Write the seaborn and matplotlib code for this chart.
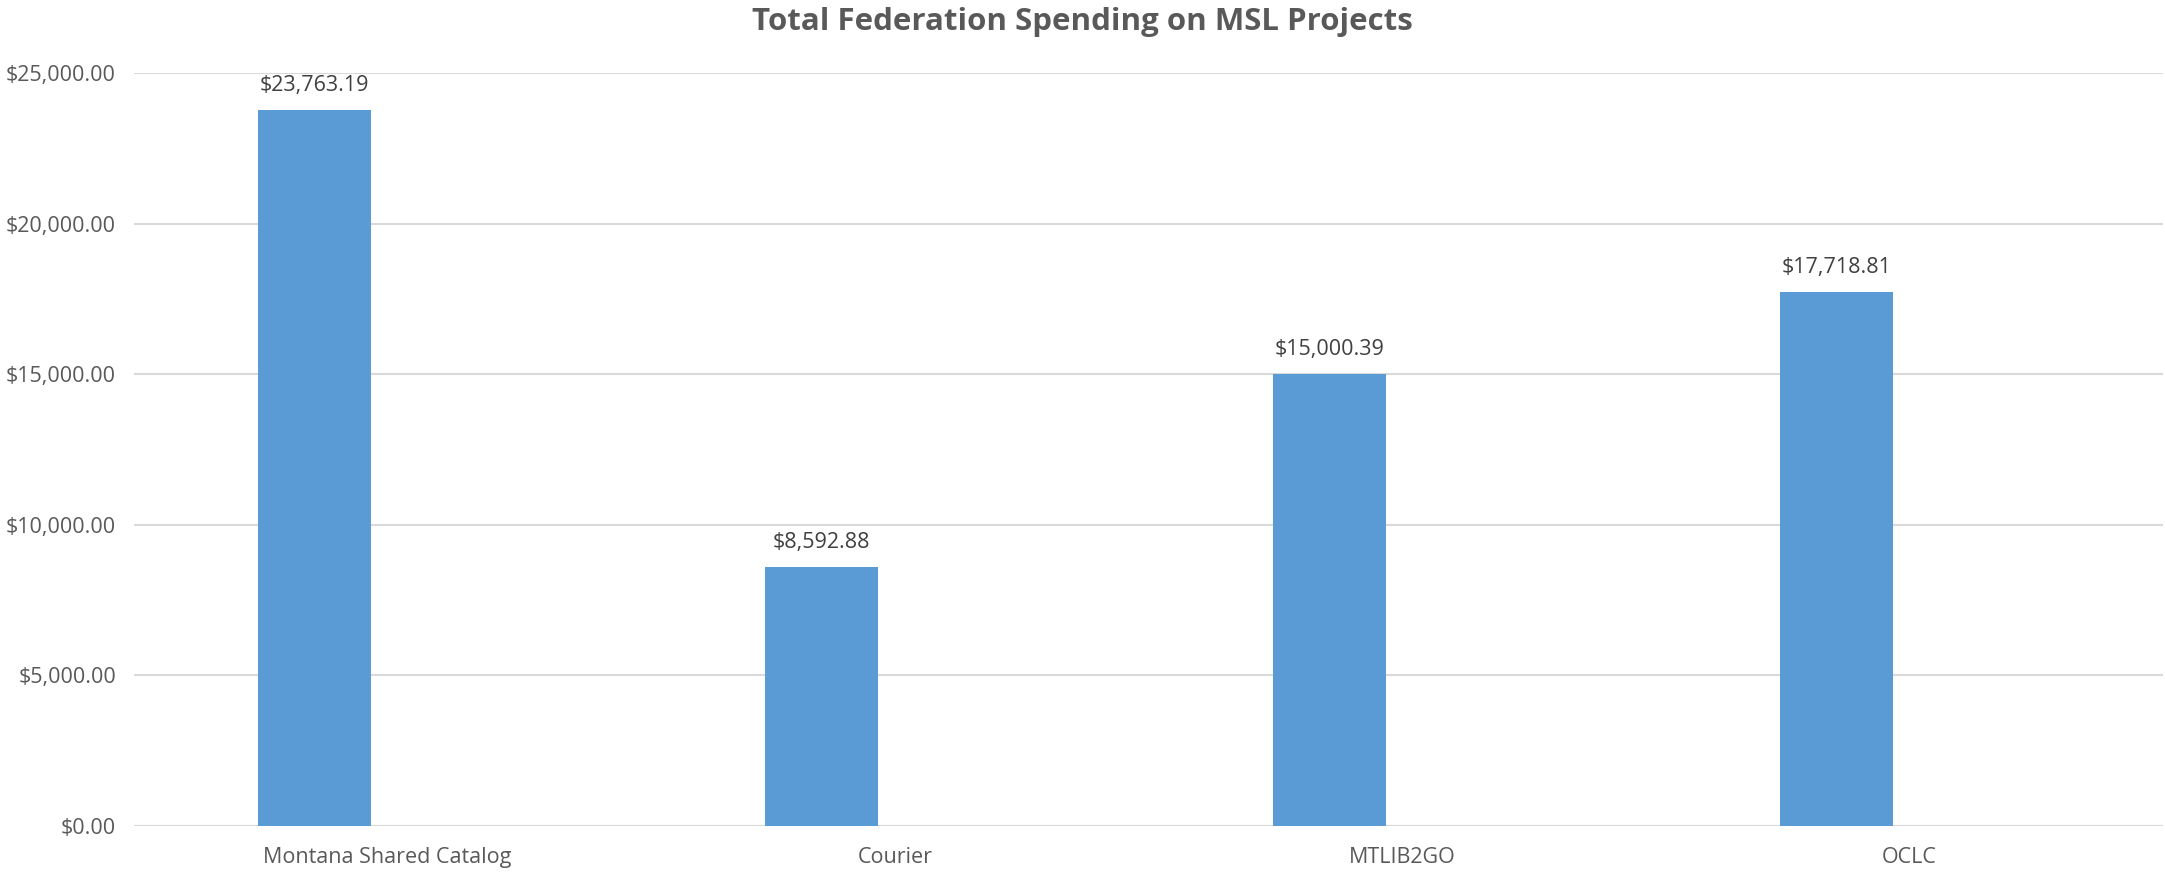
import matplotlib
matplotlib.use("Agg")
import matplotlib.pyplot as plt
import seaborn as sns
import pandas as pd
import numpy as np
from matplotlib.ticker import FuncFormatter

# Data
projects = ["Montana Shared Catalog", "Courier", "MTLIB2GO", "OCLC"]
spending = [23763.19, 8592.88, 15000.39, 17718.81]
# the original Excel chart has a second (empty) series, which shifts the bars left
other = [np.nan, np.nan, np.nan, np.nan]

df = pd.DataFrame({
    "project": projects * 2,
    "series": ["Spending"] * 4 + ["Other"] * 4,
    "value": spending + other,
})

sns.set_style("white")
plt.rcParams['font.family'] = ['Open Sans', 'DejaVu Sans']

fig = plt.figure(figsize=(21.65, 8.72), dpi=100)
ax = fig.add_axes([0.0619, 0.0528, 0.9372, 0.8635])

sns.barplot(data=df, x="project", y="value", hue="series",
            hue_order=["Spending", "Other"], palette=["#5B9BD5", "#ED7D31"],
            width=0.576, gap=0.226, saturation=1, legend=False, ax=ax,
            zorder=3, linewidth=0)

ax.set_ylim(0, 25000)
ax.set_yticks(range(0, 25001, 5000))
ax.yaxis.set_major_formatter(FuncFormatter(lambda v, p: "${:,.2f}".format(v)))
ax.grid(axis="y", color="#D9D9D9", linewidth=1.5, zorder=0)
for s in ["top", "right", "left", "bottom"]:
    ax.spines[s].set_visible(False)
ax.axhline(0, color="#D9D9D9", linewidth=1.5, zorder=1)
ax.tick_params(axis="both", length=0, labelsize=15.5, labelcolor="#595959")
ax.tick_params(axis="y", pad=13)
ax.tick_params(axis="x", pad=15)
ax.set_xlabel("")
ax.set_ylabel("")

# value labels, centred on each drawn bar
bars = [p for p in ax.patches if p.get_height() > 0]
for p, v in zip(bars, spending):
    ax.annotate("${:,.2f}".format(v), (p.get_x() + p.get_width() / 2, p.get_height()),
                xytext=(0, 10), textcoords="offset points", ha="center", va="bottom",
                fontsize=15.5, color="#404040")

fig.suptitle("Total Federation Spending on MSL Projects", x=0.5, y=0.992, va="top",
             fontsize=22.5, fontweight="bold", color="#595959")

fig.savefig("out.png", dpi=100)
